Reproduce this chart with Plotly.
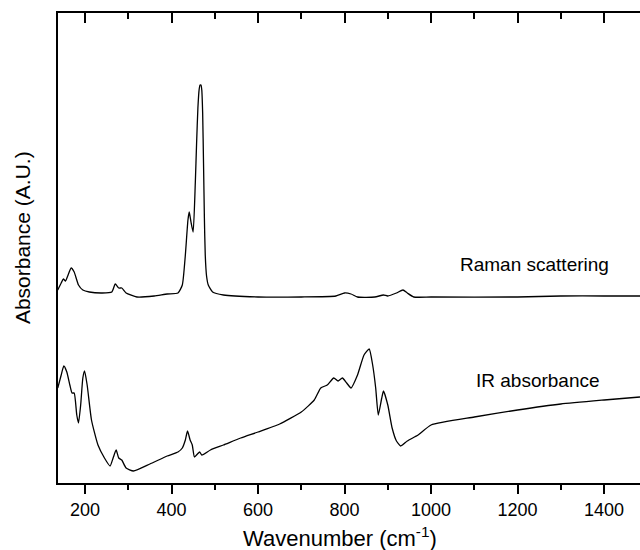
import plotly.graph_objects as go

# Raman scattering spectrum (wavenumber cm-1, arbitrary units)
raman_wn = [137, 145, 150, 155, 160, 168, 175, 185, 195, 210, 240, 262, 270, 278, 285, 295,
            320, 360, 390, 415, 425, 432, 438, 441, 445, 450, 455, 458, 461, 464, 466, 468,
            470, 472, 474, 476, 478, 481, 485, 495, 520, 600, 700, 780, 800, 815, 830, 870,
            890, 900, 920, 935, 945, 960, 1000, 1200, 1300, 1400, 1483]
raman_val = [193, 200, 204, 202, 207, 215, 211, 198, 193, 191, 190, 191, 199, 195, 195, 190,
             186, 187, 189, 190, 198, 228, 263, 271, 261, 251, 300, 340, 375, 394, 398, 398,
             393, 370, 320, 265, 228, 207, 198, 191, 188, 186, 186, 187, 190, 189, 186, 186,
             188, 187, 190, 193, 190, 186, 186, 186, 187, 187, 187]

# IR absorbance spectrum
ir_wn = [137, 145, 151, 158, 165, 170, 175, 181, 185, 190, 195, 199, 205, 215, 230, 245,
         258, 265, 272, 278, 285, 295, 312, 350, 390, 415, 425, 432, 437, 443, 448, 453,
         460, 465, 470, 490, 520, 560, 600, 650, 700, 730, 745, 760, 775, 785, 795, 805,
         815, 830, 845, 857, 865, 872, 878, 886, 890, 900, 910, 920, 930, 945, 970, 1000,
         1100, 1200, 1300, 1400, 1483]
ir_val = [95, 108, 117, 111, 98, 90, 90, 68, 60, 78, 105, 112, 98, 63, 38, 25,
          17, 25, 33, 25, 23, 15, 12, 19, 27, 31, 35, 43, 52, 43, 38, 26,
          29, 31, 28, 33, 38, 45, 51, 59, 71, 83, 95, 98, 105, 102, 105, 100,
          95, 108, 128, 134, 118, 95, 68, 85, 92, 78, 55, 42, 37, 42, 48, 58,
          66, 73, 79, 83, 86]

x_range = [137.6, 1483]
y_range = [0, 470]
font_family = "Liberation Sans, Arial, sans-serif"

fig = go.Figure()
fig.add_trace(go.Scatter(x=raman_wn, y=raman_val, mode="lines",
                         line=dict(color="black", width=1.3, shape="spline", smoothing=0.5),
                         showlegend=False, xaxis="x", yaxis="y"))
fig.add_trace(go.Scatter(x=ir_wn, y=ir_val, mode="lines",
                         line=dict(color="black", width=1.3, shape="spline", smoothing=0.5),
                         showlegend=False, xaxis="x2", yaxis="y"))

fig.update_layout(
    width=640, height=550,
    margin=dict(l=58, r=0, t=13, b=67),
    paper_bgcolor="white", plot_bgcolor="white",
    font=dict(family=font_family, color="black"),
    xaxis=dict(range=x_range, showline=True, linewidth=2, linecolor="black",
               ticks="outside", ticklen=9, tickwidth=2, tickcolor="black",
               tick0=200, dtick=200, tickfont=dict(size=18),
               minor=dict(ticks="outside", ticklen=5, tickwidth=2, dtick=100, tickcolor="black"),
               showgrid=False, zeroline=False),
    xaxis2=dict(range=x_range, matches="x", overlaying="x", side="top",
                showline=True, linewidth=2, linecolor="black",
                ticks="inside", ticklen=10, tickwidth=2, tickcolor="black",
                tick0=200, dtick=200, showticklabels=False,
                minor=dict(ticks="inside", ticklen=6, tickwidth=2, dtick=100, tickcolor="black"),
                showgrid=False, zeroline=False),
    yaxis=dict(range=y_range, showline=True, linewidth=2, linecolor="black",
               ticks="", showticklabels=False, showgrid=False, zeroline=False),
    annotations=[
        dict(text="Wavenumber (cm<sup>-1</sup>)", xref="paper", yref="paper",
             x=0.4845, y=-0.115, xanchor="center", yanchor="middle",
             showarrow=False, font=dict(size=22)),
        dict(text="Absorbance (A.U.)", xref="paper", yref="paper",
             x=-0.062, y=0.523, xanchor="center", yanchor="middle", textangle=-90,
             showarrow=False, font=dict(size=21)),
        dict(text="Raman scattering", xref="paper", yref="paper",
             x=0.687, y=0.464, xanchor="left", yanchor="middle",
             showarrow=False, font=dict(size=19)),
        dict(text="IR absorbance", xref="paper", yref="paper",
             x=0.715, y=0.219, xanchor="left", yanchor="middle",
             showarrow=False, font=dict(size=19)),
    ],
)

fig.write_html("out.html", config={"displayModeBar": False},
               post_script="document.body.style.margin='0';document.body.style.overflow='hidden';")
